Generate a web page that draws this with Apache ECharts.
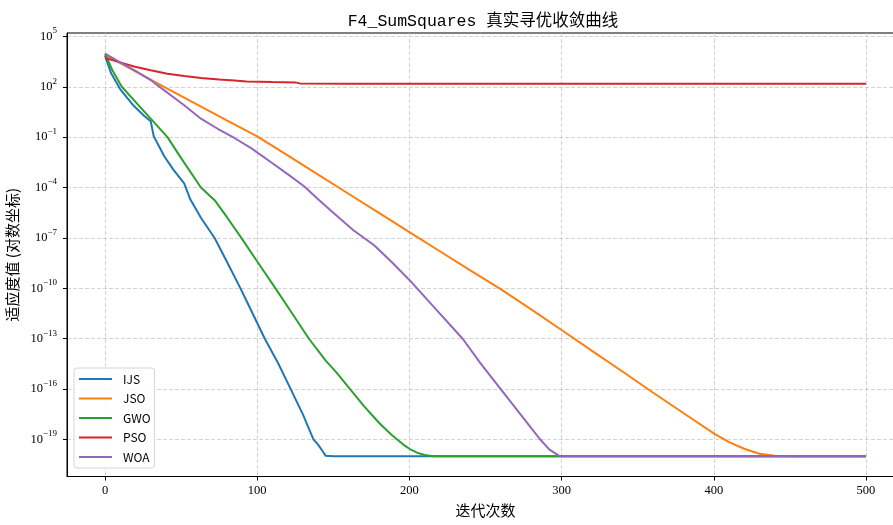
<!DOCTYPE html>
<html><head><meta charset="utf-8">
<script src="https://cdn.jsdelivr.net/npm/echarts@6/dist/echarts.min.js"></script>
<style>html,body{margin:0;padding:0;background:#fff}#c{width:893px;height:525px}</style>
</head><body><div id="c"></div>
<script>
// ---- data (fitness values given as base-10 exponents) ----
const xTicks = [0, 100, 200, 300, 400, 500];
const yTickExps = [-19, -16, -13, -10, -7, -4, -1, 2, 5];
const seriesNames = ['IJS', 'JSO', 'GWO', 'PSO', 'WOA'];

const ijsIter = [0, 4, 10, 19, 26, 30, 32, 39, 45, 52, 56, 63, 72, 80, 89, 93, 105, 114, 122, 130, 137, 140, 143, 145, 150, 500];
const ijsExp  = [3.85, 2.8, 1.85, 0.85, 0.25, -0.05, -0.95, -2.15, -2.95, -3.75, -4.7, -5.8, -7.0, -8.4, -10.0, -10.75, -13.0, -14.5, -16.0, -17.5, -19.0, -19.3, -19.7, -19.97, -20, -20];

const jsoIter = [0, 20, 40, 60, 80, 100, 120, 140, 160, 180, 200, 220, 240, 260, 280, 300, 320, 340, 360, 380, 400, 410, 420, 430, 440, 450, 500];
const jsoExp  = [3.9, 2.92, 1.94, 0.97, 0.0, -0.95, -2.09, -3.23, -4.37, -5.51, -6.65, -7.79, -8.93, -10.05, -11.25, -12.48, -13.72, -14.95, -16.2, -17.42, -18.63, -19.15, -19.55, -19.85, -19.97, -20, -20];

const gwoIter = [0, 5, 11, 20, 30, 41, 50, 63, 72, 80, 89, 100, 112, 123, 134, 145, 152, 161, 170, 180, 188, 192, 196, 200, 205, 210, 216, 500];
const gwoExp  = [3.97, 2.95, 2.0, 1.1, 0.1, -1.0, -2.25, -4.0, -4.75, -5.75, -6.92, -8.4, -10.0, -11.5, -13.0, -14.3, -15.0, -16.0, -17.0, -18.0, -18.7, -19.0, -19.3, -19.55, -19.78, -19.92, -20, -20];

const psoIter = [0, 10, 19, 30, 41, 52, 63, 75, 85, 93, 110, 125, 128, 160, 500];
const psoExp  = [3.71, 3.45, 3.21, 2.98, 2.78, 2.64, 2.52, 2.43, 2.37, 2.32, 2.28, 2.26, 2.2, 2.18, 2.18];

const woaIter = [0, 10, 20, 30, 35, 52, 63, 74, 85, 96, 110, 120, 131, 140, 150, 163, 177, 188, 200, 216, 235, 247, 260, 273, 286, 292, 299, 500];
const woaExp  = [3.97, 3.45, 2.95, 2.4, 2.05, 0.9, 0.1, -0.5, -1.05, -1.65, -2.55, -3.2, -3.94, -4.7, -5.5, -6.53, -7.45, -8.4, -9.5, -11.1, -13.0, -14.5, -16.0, -17.5, -19.0, -19.6, -20, -20];

const seriesIters = [ijsIter, jsoIter, gwoIter, psoIter, woaIter];
const seriesExps = [ijsExp, jsoExp, gwoExp, psoExp, woaExp];
const colors = ['#1f77b4', '#ff7f0e', '#2ca02c', '#d62728', '#9467bd'];

const toPairs = (it, ex) => it.map((x, i) => [x, ex[i]]);
const sup = n => (n < 0 ? '\u2212' + (-n) : String(n));

const chart = echarts.init(document.getElementById('c'), null, { renderer: 'canvas' });
const option = {
  animation: false,
  backgroundColor: '#ffffff',
  title: {
    text: 'F4_SumSquares 真实寻优收敛曲线',
    left: 483, top: 13, textAlign: 'center', padding: 0,
    textStyle: { fontFamily: "'Liberation Mono','Noto Sans CJK SC'", fontSize: 16.5, fontWeight: 'normal', color: '#000' }
  },
  grid: { left: 67, top: 33, width: 837, height: 443.5, outerBoundsMode: 'none', containLabel: false, show: true, borderColor: '#000', borderWidth: 1, backgroundColor: 'transparent' },
  xAxis: {
    type: 'value', min: -25, max: 525,
    name: '迭代次数', nameLocation: 'middle', nameGap: 24,
    nameTextStyle: { fontFamily: 'Noto Sans CJK SC', fontSize: 15, color: '#000' },
    axisLine: { show: true, onZero: false, lineStyle: { color: '#000', width: 1 } },
    axisTick: { show: true, inside: false, length: 4, customValues: xTicks, lineStyle: { color: '#000' } },
    axisLabel: { customValues: xTicks, fontFamily: 'Liberation Serif', fontSize: 12.5, color: '#000', margin: 8 },
    splitLine: { show: true, lineStyle: { color: '#c8c8c8', type: [4, 2], width: 0.8 } }
  },
  yAxis: {
    type: 'value', min: -21.2, max: 5.2,
    name: '适应度值 (对数坐标)', nameLocation: 'middle', nameGap: 43,
    nameTextStyle: { fontFamily: 'Noto Sans CJK SC', fontSize: 15, color: '#000' },
    axisLine: { show: true, onZero: false, lineStyle: { color: '#000', width: 1 } },
    axisTick: { show: true, inside: false, length: 4, customValues: yTickExps, lineStyle: { color: '#000' } },
    axisLabel: {
      customValues: yTickExps, margin: 10,
      formatter: v => '{b|10}{s|' + sup(Math.round(v)) + '}',
      rich: {
        b: { fontFamily: 'Liberation Serif', fontSize: 12.5, color: '#000' },
        s: { fontFamily: 'Liberation Serif', fontSize: 9, color: '#000', padding: [0, 0, 11, 0] }
      }
    },
    splitLine: { show: true, lineStyle: { color: '#c8c8c8', type: [4, 2], width: 0.8 } }
  },
  legend: {
    orient: 'vertical', left: 74, top: 368,
    padding: [4, 4, 4, 5], itemWidth: 33, itemHeight: 2, itemGap: 5.5, icon: 'rect',
    backgroundColor: 'rgba(255,255,255,0.85)', borderColor: '#d5d5d5', borderWidth: 1, borderRadius: 3,
    textStyle: { fontFamily: 'Noto Sans CJK SC', fontSize: 12, color: '#000', lineHeight: 14, padding: [0, 0, 0, 6] },
    data: seriesNames
  },
  series: seriesNames.map((name, i) => ({
    name, type: 'line', showSymbol: false, symbol: 'none',
    data: toPairs(seriesIters[i], seriesExps[i]),
    lineStyle: { width: 2, color: colors[i] },
    itemStyle: { color: colors[i] },
    z: 2 + i
  }))
};
chart.setOption(option);
</script>
</body></html>
